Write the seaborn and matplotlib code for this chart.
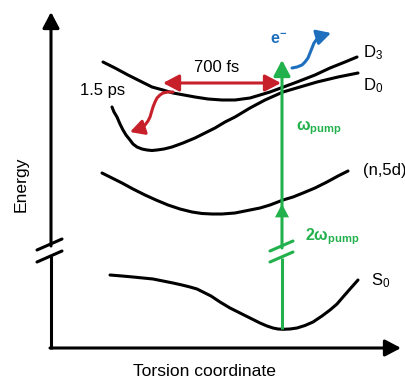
import matplotlib
matplotlib.use("Agg")
import matplotlib.pyplot as plt
import seaborn as sns
import pandas as pd

sns.set_theme(style="white")
plt.rcParams['font.family'] = ['Liberation Sans', 'DejaVu Sans']
plt.rcParams['mathtext.fontset'] = 'custom'
plt.rcParams['mathtext.rm'] = 'Liberation Sans'
plt.rcParams['mathtext.it'] = 'Liberation Sans'
plt.rcParams['mathtext.bf'] = 'Liberation Sans:bold'

# ---- curve data (schematic, in picture coordinates) ----
d3_x = [103, 115, 128, 140, 152, 163, 173, 184, 195, 208, 222, 235, 250, 270, 297, 315, 330, 345, 357]
d3_y = [62, 68, 75, 81, 87, 90, 93, 95, 97, 99, 100, 100, 98, 92, 82, 75, 68, 62, 57]

d0_x = [112, 114, 117, 120, 123, 126, 130, 133, 137, 142, 147, 152, 157, 164, 172, 183, 195, 205, 215, 225, 235, 250, 265, 283, 300, 317, 338, 358]
d0_y = [107, 112, 117, 124, 130, 135, 140, 144, 147, 149, 150, 150.5, 150, 149, 147, 143, 138, 133, 128, 122, 117, 108, 100, 92, 87, 82, 77, 73]

n5d_x = [102, 112, 122, 133, 145, 156, 168, 180, 192, 202, 212, 222, 235, 250, 260, 270, 283, 293, 303, 315, 327, 338, 348]
n5d_y = [173, 178, 183, 189, 195, 200, 205, 209, 212, 213.5, 214, 214, 213, 210, 208, 205, 200, 197, 193, 188, 182, 176, 171]

s0_x = [110, 122, 133, 143, 153, 163, 173, 182, 190, 197, 203, 211, 220, 230, 240, 243, 252, 260, 267, 273, 278, 283, 290, 297, 305, 313, 322, 330, 337, 343, 350, 358]
s0_y = [275, 276, 277, 278, 279, 281, 283, 285, 287, 289, 292, 296, 302, 308, 313, 314.5, 319, 323, 326, 328, 329, 329.3, 329, 328, 325.5, 322, 316, 310, 304, 297, 289, 280]

red_curl_x = [173, 168, 163, 160, 157, 155, 153, 151.5, 150, 148, 145, 142, 138, 130]
red_curl_y = [92, 92, 93, 95, 98, 102, 107, 112, 117, 121, 125, 128, 130, 132]

blue_curl_x = [292, 297, 302, 305, 308, 310, 312, 314, 317, 321, 325, 331]
blue_curl_y = [68, 67, 65, 62, 58, 53, 48, 43, 39, 36, 34, 33]

labels = ["D$_3$", "D$_0$", "(n,5d)", "S$_0$"]
label_x = [363, 363, 363, 371]
label_y = [53, 86, 171, 281]

pump_x = 282
pump_y0, pump_y1 = 329, 60
mid_arrow_y = 204

BLACK = "#000000"
GREEN = "#22b14c"
RED = "#c8202b"
BLUE = "#1f6fbf"

fig = plt.figure(figsize=(4.06, 3.79), dpi=100)
ax = fig.add_axes([0, 0, 1, 1])
ax.set_xlim(0, 406)
ax.set_ylim(379, 0)
ax.axis("off")

lw = 2.2
for xs, ys in [(d3_x, d3_y), (d0_x, d0_y), (n5d_x, n5d_y), (s0_x, s0_y)]:
    df = pd.DataFrame({"x": xs, "y": ys})
    sns.lineplot(data=df, x="x", y="y", sort=False, estimator=None,
                 color=BLACK, lw=lw, ax=ax)

HEAD = "-|>,head_length=0.8,head_width=0.42"

# axes arrows
ax.plot([51, 51], [349, 256], color=BLACK, lw=lw, solid_capstyle="butt")
ax.annotate("", xy=(51, 12), xytext=(51, 246),
            arrowprops=dict(arrowstyle=HEAD, color=BLACK, lw=lw, shrinkA=0, shrinkB=0))
ax.annotate("", xy=(401, 348), xytext=(50, 348),
            arrowprops=dict(arrowstyle=HEAD, color=BLACK, lw=lw, shrinkA=0, shrinkB=0))
for yy in (250, 262):
    ax.plot([37, 62], [yy, yy - 11], color=BLACK, lw=lw)

# green pump arrow
ax.plot([pump_x, pump_x], [pump_y0, 258], color=GREEN, lw=lw, solid_capstyle="butt")
ax.annotate("", xy=(pump_x, pump_y1), xytext=(pump_x, 248),
            arrowprops=dict(arrowstyle=HEAD, color=GREEN, lw=lw, shrinkA=0, shrinkB=0))
ax.annotate("", xy=(pump_x, mid_arrow_y), xytext=(pump_x, 222),
            arrowprops=dict(arrowstyle=HEAD, color=GREEN, lw=0.01, shrinkA=0, shrinkB=0))
for yy in (251, 262):
    ax.plot([270, 293], [yy, yy - 10], color=GREEN, lw=lw)

# red double arrow
ax.annotate("", xy=(163, 83), xytext=(281, 83),
            arrowprops=dict(arrowstyle="<|-|>,head_length=0.8,head_width=0.42",
                            color=RED, lw=lw, shrinkA=0, shrinkB=0))
ax.text(217, 67, "700 fs", fontsize=12, ha="center", va="center", color=BLACK)

# red curly arrow
df = pd.DataFrame({"x": red_curl_x[:-1], "y": red_curl_y[:-1]})
sns.lineplot(data=df, x="x", y="y", sort=False, estimator=None, color=RED, lw=lw, ax=ax)
ax.annotate("", xy=(red_curl_x[-1], red_curl_y[-1]),
            xytext=(red_curl_x[-3], red_curl_y[-3]),
            arrowprops=dict(arrowstyle="-|>,head_length=0.7,head_width=0.38",
                            color=RED, lw=lw, shrinkA=0, shrinkB=0))
ax.text(103, 90, "1.5 ps", fontsize=12, ha="center", va="center", color=BLACK)

# blue curly arrow
df = pd.DataFrame({"x": blue_curl_x[:-1], "y": blue_curl_y[:-1]})
sns.lineplot(data=df, x="x", y="y", sort=False, estimator=None, color=BLUE, lw=lw, ax=ax)
ax.annotate("", xy=(blue_curl_x[-1], blue_curl_y[-1]),
            xytext=(blue_curl_x[-3], blue_curl_y[-3]),
            arrowprops=dict(arrowstyle="-|>,head_length=0.7,head_width=0.38",
                            color=BLUE, lw=lw, shrinkA=0, shrinkB=0))
ax.text(279, 40, r"e$^{\mathbf{-}}$", fontsize=11.5, fontweight="bold",
        ha="center", va="center", color=BLUE)

# green labels
ax.text(296, 128, r"$\mathbf{ω_{pump}}$", fontsize=11.5, ha="left", va="center", color=GREEN)
ax.text(305, 237, r"$\mathbf{2ω_{pump}}$", fontsize=11.5, ha="left", va="center", color=GREEN)

for t, x, y in zip(labels, label_x, label_y):
    ax.text(x, y, t, fontsize=12, ha="left", va="center", color=BLACK)

ax.text(205, 371, "Torsion coordinate", fontsize=12.6, ha="center", va="center", color=BLACK)
ax.text(21, 184, "Energy", fontsize=12.6, ha="center", va="center", rotation=90, color=BLACK)

fig.savefig("out.png", dpi=100)
